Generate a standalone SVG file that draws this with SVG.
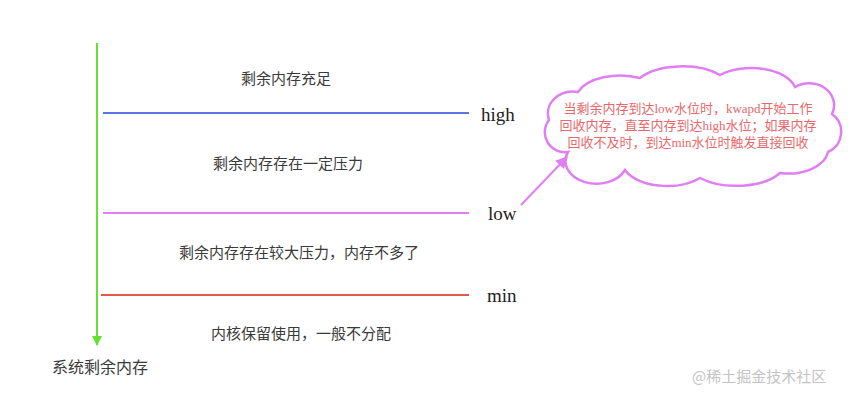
<svg xmlns="http://www.w3.org/2000/svg" width="865" height="401" viewBox="0 0 865 401">
<style>
.zh{font-family:"Noto Sans CJK SC","Liberation Sans",sans-serif;font-size:15px;fill:#3a3a3a;text-anchor:middle;dominant-baseline:central}
.lv{font-family:"Liberation Serif","Noto Sans CJK SC",serif;font-size:19px;fill:#222}
.cl{font-family:"Liberation Serif","Noto Sans CJK SC",serif;font-size:13px;fill:#e8686a;text-anchor:middle}
.wm{font-family:"Noto Sans CJK SC",sans-serif;font-size:15px;fill:#c4c4c4}
</style>
<defs>
<marker id="ga" viewBox="0 0 10 10" refX="9" refY="5" markerWidth="10" markerHeight="16" markerUnits="userSpaceOnUse" orient="auto"><path d="M0,0 L10,5 L0,10 z" fill="#66e033"/></marker>
<marker id="va" viewBox="0 0 10 10" refX="9" refY="5" markerWidth="14" markerHeight="12" markerUnits="userSpaceOnUse" orient="auto"><path d="M0,0 L10,5 L0,10 z" fill="#df7ff2"/></marker>
</defs>
<rect width="865" height="401" fill="#fff"/>
<g id="cloud">
<path d="M568,152 A20,20 0 0 1 549,120 A25,22 0 0 1 578,92 A45,25 0 0 1 640,78 A50,25 0 0 1 720,75 A45,25 0 0 1 795,87 A25,22 0 0 1 832,114 A22,22 0 0 1 828,152 A40,25 0 0 1 780,173 A50,25 0 0 1 700,178 A45,25 0 0 1 625,170 A30,22 0 0 1 568,152 Z" fill="#fff" stroke="#df7ff2" stroke-width="2.5"/>
<text class="cl" x="688" y="113">当剩余内存到达low水位时，kwapd开始工作</text>
<text class="cl" x="688" y="130">回收内存，直至内存到达high水位；如果内存</text>
<text class="cl" x="688" y="147">回收不及时，到达min水位时触发直接回收</text>
</g>
<g id="connectors">
<line x1="97" y1="43" x2="97" y2="345" stroke="#66e033" stroke-width="2" marker-end="url(#ga)"/>
<line x1="103" y1="113" x2="469" y2="113" stroke="#5b74e8" stroke-width="2"/>
<line x1="103" y1="213" x2="469" y2="213" stroke="#df7ff2" stroke-width="2"/>
<line x1="101" y1="295" x2="469" y2="295" stroke="#e05a48" stroke-width="2"/>
<line x1="521" y1="205" x2="567" y2="157" stroke="#df7ff2" stroke-width="2" marker-end="url(#va)"/>
</g>
<g id="zone-full"><text class="zh" x="286" y="77">剩余内存充足</text></g>
<g id="zone-some"><text class="zh" x="288" y="162">剩余内存存在一定压力</text></g>
<g id="zone-high"><text class="zh" x="299" y="251">剩余内存存在较大压力，内存不多了</text></g>
<g id="zone-reserved"><text class="zh" x="301" y="332">内核保留使用，一般不分配</text></g>
<g id="axis-label"><text class="zh" x="100" y="366" style="font-size:16px">系统剩余内存</text></g>
<g id="high"><text class="lv" x="481" y="121">high</text></g>
<g id="low"><text class="lv" x="488" y="220">low</text></g>
<g id="min"><text class="lv" x="487" y="302">min</text></g>
<g id="watermark"><text class="wm" x="692" y="382">@稀土掘金技术社区</text></g>
</svg>
